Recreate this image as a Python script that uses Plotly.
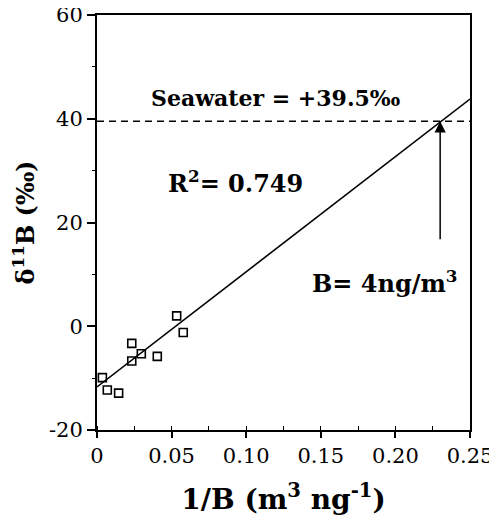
import plotly.graph_objects as go

# Data
inv_b = [0.0036, 0.0069, 0.0145, 0.0233, 0.0233, 0.0297, 0.0404, 0.0534, 0.0578]
d11b = [-9.9, -12.3, -12.9, -3.3, -6.7, -5.3, -5.8, 2.0, -1.2]

fit_x = [0.0, 0.25]
fit_y = [-11.7, 43.8]

seawater_x = [0.0, 0.25]
seawater_y = [39.5, 39.5]

arrow_x = 0.23
arrow_from_y = 16.5
arrow_to_y = 39.5

x_ticks = [0, 0.05, 0.10, 0.15, 0.20, 0.25]
x_tick_text = ["0", "0.05", "0.10", "0.15", "0.20", "0.25"]
y_ticks = [-20, 0, 20, 40, 60]
y_tick_text = ["-20", "0", "20", "40", "60"]

FONT = "DejaVu Serif"

fig = go.Figure()
fig.add_trace(go.Scatter(x=seawater_x, y=seawater_y, mode="lines",
                         line=dict(color="black", width=1.5, dash="7px,5px"),
                         showlegend=False, hoverinfo="skip"))
fig.add_trace(go.Scatter(x=fit_x, y=fit_y, mode="lines",
                         line=dict(color="black", width=1.6),
                         showlegend=False, hoverinfo="skip"))
fig.add_trace(go.Scatter(x=inv_b, y=d11b, mode="markers",
                         marker=dict(symbol="square-open", size=8, color="black",
                                     line=dict(width=1.6, color="black")),
                         showlegend=False))

fig.add_annotation(x=arrow_x, y=arrow_to_y, ax=arrow_x, ay=arrow_from_y,
                   xref="x", yref="y", axref="x", ayref="y", text="",
                   showarrow=True, arrowhead=2, arrowsize=1.5, arrowwidth=1.5,
                   arrowcolor="black")

fig.add_annotation(x=0.1193, y=44.0, xref="x", yref="y", text="Seawater = +39.5‰",
                   showarrow=False,
                   font=dict(family=FONT, size=22, color="black", weight="bold"))
fig.add_annotation(x=0.0925, y=27.8, xref="x", yref="y", text="R<sup>2</sup>= 0.749",
                   showarrow=False,
                   font=dict(family=FONT, size=24, color="black", weight="bold"))
fig.add_annotation(x=0.1927, y=8.5, xref="x", yref="y", text="B= 4ng/m<sup>3</sup>",
                   showarrow=False,
                   font=dict(family=FONT, size=24, color="black", weight="bold"))

# the page body has an 8px default margin, so the figure is shrunk to fit the window
fig.update_layout(
    width=489, height=515,
    margin=dict(l=89, r=27, t=7, b=93, autoexpand=False),
    plot_bgcolor="white", paper_bgcolor="white",
    font=dict(family=FONT, color="black"),
    xaxis=dict(range=[0, 0.25], tickvals=x_ticks, ticktext=x_tick_text,
               automargin=False, ticklabeloverflow="allow",
               showgrid=False, zeroline=False, showline=True, linecolor="black",
               linewidth=2, mirror=True, ticks="outside", ticklen=6, tickwidth=1.5,
               tickcolor="black", tickfont=dict(family=FONT, size=21),
               minor=dict(dtick=0.025, ticks="inside", ticklen=4, tickcolor="black",
                          tickwidth=1.2),
               title=dict(text="1/B (m<sup>3</sup> ng<sup>-1</sup>)",
                          font=dict(family=FONT, size=28, weight="bold"), standoff=22)),
    yaxis=dict(range=[-20, 60], tickvals=y_ticks, ticktext=y_tick_text,
               automargin=False, ticklabeloverflow="allow",
               showgrid=False, zeroline=False, showline=True, linecolor="black",
               linewidth=2, mirror=True, ticks="outside", ticklen=8, tickwidth=1.5,
               tickcolor="black", tickfont=dict(family=FONT, size=21),
               minor=dict(dtick=10, ticks="outside", ticklen=3, tickcolor="black",
                          tickwidth=1.2),
               title=dict(text="δ<sup>11</sup>B (‰)",
                          font=dict(family=FONT, size=24, weight="bold"), standoff=10)),
)

fig.write_html("out.html")
